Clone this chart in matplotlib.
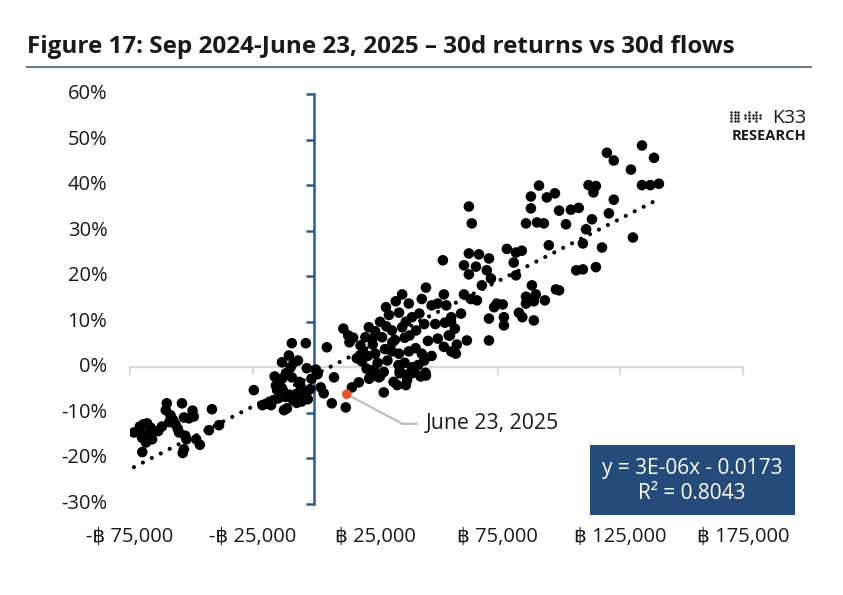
import matplotlib
matplotlib.use("Agg")
import matplotlib.pyplot as plt
from matplotlib.lines import Line2D
from matplotlib.patches import Rectangle
import matplotlib.transforms as mtransforms
import numpy as np

plt.rcParams['font.family'] = ['Open Sans', 'DejaVu Sans']

# ---- data: 30d flows (BTC) and 30d returns (%) ----
flows = [
    -73400, -71000, -70000, -68500, -67500, -66500, -65000, -63500, -69500, -70500,
    -68000, -66000, -70000, -60000, -60400, -53800, -58500, -57500, -56500, -53000,
    -51000, -49500, -49000, -55500, -55000, -52500, -52000, -53000, -53500, -48000,
    -46500, -41600, -42800, -38700, -59000, -62000,
    -24500, -21000, -19500, -17500, -16000, -15500, -15000, -9000, -3300, -10200,
    -13000, -8200, -11400, -2900, -13000, -11500, -10000, -8500, -7000, -5500,
    -4500, -3000, -6000, -12200, -11000, -14000, -13000, -9000, -7000, -5000,
    -2500, -1500, -14500, -16500, -9500, -6500,
    5300, 12000, 14000, 16000, 14500, 8200, 7300, 13000, 4000, 2800,
    15500, 18300, 1500, 800, -1000,
    28500, 23000, 26500, 34000, 37500, 45700, 35000, 40000, 29400, 33400,
    36000, 38700, 45700, 44000, 53000, 48000, 50500, 54000, 30600, 34700,
    37500, 22400, 25000, 21000, 23800, 27800, 31800, 40000, 43000, 45000,
    41700, 39000, 37000, 49500, 53400, 56000, 55000, 20000, 22000, 25000,
    29000, 31800, 34700, 38700, 41500, 44000, 48000, 19600, 26000, 30000,
    34500, 37000, 40000, 42500, 45000, 21500, 24500, 28500, 35000, 38000,
    41000, 45500, 22500, 27000, 32500, 38000, 43500, 53000, 56000, 57900,
    17500, 33000, 27000, 46500, 50500, 24000, 29500, 32000, 36000, 19000,
    63200, 64400, 52600, 63200, 67300, 61200, 66100, 71400, 70500, 63200,
    72200, 68500, 78700, 82400, 84800, 81500, 82400, 88900, 98700, 86500,
    89700, 86500, 90500, 74600, 77000, 73500, 71400, 77500, 77500, 83600,
    85000, 89700, 94200, 71400, 62400, 61200, 64000, 66500, 60000, 55900,
    57500, 55500, 58300, 91800, 88500, 95000, 98300, 88500, 100000, 104800,
    108000, 86500, 91000, 93800, 102800, 95800, 107000,
    119500, 122300, 133800, 138700, 129300, 112000, 115000, 114000, 133800, 137200,
    140700, 122300, 120300, 113400, 111000, 109700, 117500, 130100, 109700, 115000,
    100000,
]
returns_pct = [
    -14.3, -13.0, -15.5, -16.5, -14.5, -13.3, -14.0, -14.0, -12.5, -14.8,
    -12.3, -15.8, -18.6, -7.9, -9.4, -7.9, -10.5, -11.5, -12.5, -11.0,
    -11.2, -9.5, -10.8, -13.5, -14.3, -15.0, -15.8, -18.0, -18.8, -15.8,
    -17.0, -9.2, -13.8, -12.7, -12.0, -13.0,
    -5.0, -8.3, -8.0, -8.3, -2.0, -4.0, -5.0, 5.3, 5.3, 2.6,
    1.1, 1.1, -1.3, -0.2, -4.6, -6.5, -6.0, -7.2, -5.8, -4.0,
    -6.5, -5.5, -3.2, -9.4, -9.0, -3.0, -2.5, -2.2, -7.8, -7.5,
    -7.0, -4.8, -6.8, -7.2, 0.0, 1.5,
    4.4, 8.5, 7.0, 6.5, 5.5, -2.2, -7.9, -8.8, -5.7, -4.4,
    -4.4, -3.3, -1.5, -0.5, -2.5,
    -5.5, -2.2, -2.2, -3.9, -3.9, -1.8, -1.3, -1.3, 13.2, 14.5,
    16.0, 14.0, 17.5, 15.0, 16.0, 13.6, 14.0, 13.6, 11.5, 12.0,
    10.0, 8.8, 7.9, 6.6, 6.2, 6.6, 8.1, 11.0, 11.8, 9.5,
    8.1, 7.0, 6.5, 9.5, 9.8, 11.0, 7.0, 3.3, 2.5, 3.0,
    4.0, 3.5, 3.0, 3.5, 4.2, 3.0, 2.5, 1.3, 1.0, 1.5,
    0.5, 1.0, 0.0, 0.5, 1.5, -0.3, -0.5, -1.0, -0.8, -1.6,
    -0.4, -1.2, -2.5, -2.0, -3.2, -2.8, -2.0, 4.5, 3.5, 3.0,
    2.0, 6.0, 10.0, 5.8, 6.3, 5.0, 9.0, 5.5, 8.8, 4.8,
    35.3, 31.6, 23.5, 25.0, 24.8, 22.4, 22.1, 23.9, 21.3, 20.4,
    19.5, 18.0, 26.0, 25.2, 25.6, 23.0, 20.2, 18.0, 17.1, 15.5,
    14.5, 14.0, 16.0, 14.0, 13.8, 13.2, 10.7, 11.0, 9.2, 12.0,
    11.0, 10.3, 14.7, 5.9, 5.9, 16.0, 15.0, 14.7, 11.8, 10.0,
    8.5, 7.0, 5.0, 39.9, 37.5, 37.3, 38.2, 34.9, 34.4, 34.6,
    35.0, 31.6, 31.8, 31.6, 31.4, 26.8, 21.3,
    47.1, 45.4, 48.7, 46.0, 43.4, 40.0, 39.8, 38.4, 40.0, 40.0,
    40.3, 36.8, 33.8, 32.5, 30.3, 27.2, 26.3, 28.5, 21.5, 22.0,
    16.9,
]

latest_label = "June 23, 2025"
latest_flow = 13400
latest_return_pct = -5.9

trend_slope_pct = 2.75e-4      # % per BTC
trend_intercept_pct = -1.73

x_ticks = [-75000, -25000, 25000, 75000, 125000, 175000]
x_tick_labels = ["-\u0e3f 75,000", "-\u0e3f 25,000", "\u0e3f 25,000",
                 "\u0e3f 75,000", "\u0e3f 125,000", "\u0e3f 175,000"]
y_ticks = [-30, -20, -10, 0, 10, 20, 30, 40, 50, 60]
y_tick_labels = [f"{v}%" for v in y_ticks]

title = "Figure 17: Sep 2024-June 23, 2025 \u2013 30d returns vs 30d flows"
eq_text = "y = 3E-06x - 0.0173\nR\u00b2 = 0.8043"

# ---- figure ----
W, H = 843, 595
fig = plt.figure(figsize=(W / 100, H / 100), dpi=100)
fig.patch.set_facecolor("white")

ax = fig.add_axes([130 / W, 91 / H, 613 / W, 410 / H])
ax.set_xlim(-75000, 175000)
ax.set_ylim(-30, 60)
ax.patch.set_alpha(0)

axis_blue = "#2F5A8C"
text_col = "#1a1a1a"
for s in ["top", "right"]:
    ax.spines[s].set_visible(False)
ax.spines["left"].set_position(("data", 0))
ax.spines["left"].set_color(axis_blue)
ax.spines["left"].set_linewidth(1.8)
ax.spines["bottom"].set_position(("data", 0))
ax.spines["bottom"].set_color("#d9d9d9")
ax.spines["bottom"].set_linewidth(1.6)
ax.spines["bottom"].set_zorder(0)

ax.set_xticks(x_ticks)
ax.set_yticks(y_ticks)
ax.tick_params(axis="y", direction="out", length=6, width=1.8, color=axis_blue,
               labelleft=False)
ax.tick_params(axis="x", direction="out", length=6, width=1.6, color="#d9d9d9",
               labelbottom=False)

# tick labels placed at the "low" positions (Excel style)
ytrans = mtransforms.blended_transform_factory(ax.transAxes, ax.transData)
for v, lab in zip(y_ticks, y_tick_labels):
    ax.text(-0.037, v, lab, transform=ytrans, ha="right", va="center",
            fontsize=14.5, color=text_col)
xtrans = mtransforms.blended_transform_factory(ax.transData, ax.transAxes)
for v, lab in zip(x_ticks, x_tick_labels):
    ax.text(v, -0.08, lab, transform=xtrans, ha="center", va="center",
            fontsize=14.5, color=text_col)

# scatter
ax.scatter(flows, returns_pct, s=58, color="black", edgecolors="none", zorder=3)

# trend line
xs = np.array([min(flows), max(flows)])
ax.plot(xs, trend_slope_pct * xs + trend_intercept_pct, color="black",
        lw=3.0, linestyle=(0, (0.01, 2.4)), dash_capstyle="round", zorder=2)

# latest point and annotation
ax.scatter([latest_flow], [latest_return_pct], s=48, color="#E2542B",
           edgecolors="none", zorder=5)
ax.annotate(latest_label, xy=(latest_flow, latest_return_pct),
            xytext=(45500, -12.4), textcoords="data",
            fontsize=15.3, color=text_col, va="center", ha="left",
            arrowprops=dict(arrowstyle="-", color="#bfbfbf", lw=1.6,
                            shrinkA=4, shrinkB=1,
                            connectionstyle="angle,angleA=0,angleB=-28,rad=0"),
            zorder=4)

# equation box
fig.patches.append(Rectangle((590 / W, 1 - 515 / H), 205 / W, 70 / H,
                             transform=fig.transFigure, facecolor="#244B7A",
                             edgecolor="none", zorder=5))
fig.text(692 / W, 1 - 481 / H, eq_text, ha="center", va="center", color="white",
         fontsize=15, linespacing=1.25, zorder=6)

# title and rule
fig.text(27 / W, 1 - 47 / H, title, ha="left", va="center", fontsize=17.5,
         fontweight="bold", color=text_col)
fig.add_artist(Line2D([27 / W, 811 / W], [1 - 67 / H, 1 - 67 / H],
                      transform=fig.transFigure, color="#6d7b8a", lw=1.5))

# logo
fig.text(806 / W, 1 - 123 / H, "K33", ha="right", va="baseline", fontsize=14,
         color=text_col)
fig.text(806 / W, 1 - 129 / H, "RESEARCH", ha="right", va="top", fontsize=10.5,
         fontweight="bold", color=text_col)
gx, gy = [], []
for r in range(4):
    for c in range(9):
        if c < 3 or (c >= 4 and r in (1, 2)) or (c in (5, 7) and r == 3) or (c in (5, 7) and r == 0):
            gx.append((731 + c * 3.6) / W)
            gy.append(1 - (112 + r * 3.0) / H)
fig.add_artist(Line2D(gx, gy, transform=fig.transFigure, ls="", marker="o",
                      markersize=1.8, markeredgewidth=0, color=text_col))

fig.savefig("out.png", dpi=100)
